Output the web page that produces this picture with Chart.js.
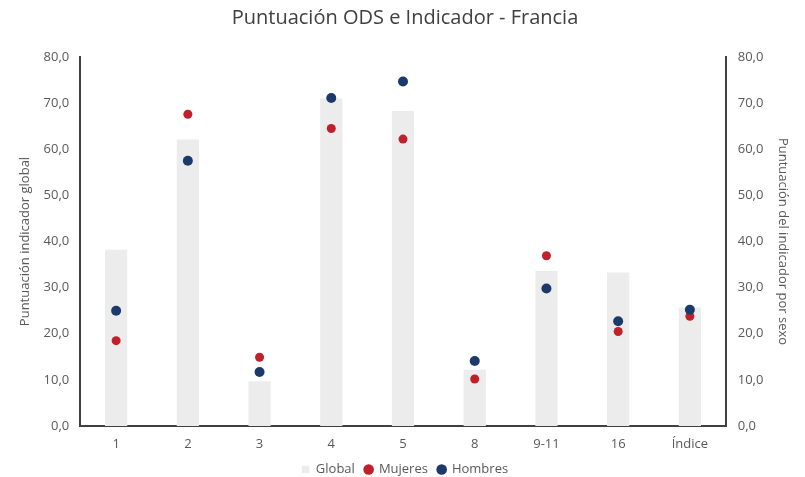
<!DOCTYPE html>
<html><head><meta charset="utf-8">
<script src="https://cdn.jsdelivr.net/npm/chart.js@4"></script>
<style>html,body{margin:0;padding:0;background:#fff}#w{width:805px;height:477px}</style>
</head><body><div id="w"><canvas id="c" width="805" height="477"></canvas></div>
<script>
const categories = ["1","2","3","4","5","8","9-11","16","Índice"];
const globalVals = [38.2,62.1,9.7,71.0,68.3,12.2,33.6,33.3,25.7];
const mujeresVals = [18.5,67.6,14.9,64.5,62.2,10.2,36.9,20.5,23.8];
const hombresVals = [25.0,57.5,11.7,71.1,74.7,14.1,29.8,22.7,25.2];
const yTicks = [0,10,20,30,40,50,60,70,80];

const fontFam = "'Open Sans', sans-serif";
const txt = '#595959';
const fmt = v => v.toFixed(1).replace('.', ',');

new Chart(document.getElementById('c'), {
  data: {
    labels: categories,
    datasets: [
      {type:'line', label:'Mujeres', data:mujeresVals, yAxisID:'y2', showLine:false,
       pointStyle:'circle', pointRadius:4.5, pointHoverRadius:4.5, backgroundColor:'#c0202a', borderColor:'#c0202a', borderWidth:0, order:1},
      {type:'line', label:'Hombres', data:hombresVals, yAxisID:'y2', showLine:false,
       pointStyle:'circle', pointRadius:5, pointHoverRadius:5, backgroundColor:'#1b3a6b', borderColor:'#1b3a6b', borderWidth:0, order:0},
      {type:'bar', label:'Global', data:globalVals, yAxisID:'y', backgroundColor:'#ececec', pointStyle:'rect',
       barPercentage:0.31, categoryPercentage:1.0, order:2}
    ]
  },
  options: {
    responsive:false, animation:false,
    layout:{padding:{left:17,right:12,top:0,bottom:-9}},
    plugins:{
      title:{display:true, text:'Puntuación ODS e Indicador - Francia', color:'#404040',
        font:{family:fontFam, size:20, weight:'normal'}, padding:{top:6,bottom:27}},
      legend:{position:'bottom', reverse:true,
        labels:{usePointStyle:true, boxWidth:7.5, boxHeight:7.5, padding:10, color:txt,
          font:{family:fontFam, size:13}}},
      tooltip:{enabled:false}
    },
    scales:{
      x:{grid:{display:false, drawTicks:false}, border:{display:true, color:'#404040', width:2},
        afterFit: a => { a.height = 27; },
        ticks:{color:txt, font:{family:fontFam, size:13}, padding:10}},
      y:{position:'left', min:0, max:80, grid:{display:false, drawTicks:false},
        border:{display:true, color:'#404040', width:2},
        afterBuildTicks: a => { a.ticks = yTicks.map(v=>({value:v})); },
        ticks:{color:txt, font:{family:fontFam, size:13}, padding:11, callback:v=>fmt(v)},
        title:{display:true, text:'Puntuación indicador global', color:txt, font:{family:fontFam, size:13}, padding:{top:0,bottom:0}}},
      y2:{position:'right', min:0, max:80, grid:{display:false, drawTicks:false},
        border:{display:true, color:'#404040', width:2},
        afterBuildTicks: a => { a.ticks = yTicks.map(v=>({value:v})); },
        ticks:{color:txt, font:{family:fontFam, size:13}, padding:12, callback:v=>fmt(v)},
        title:{display:true, text:'Puntuación del indicador por sexo', color:txt, font:{family:fontFam, size:13}, padding:{top:2,bottom:0}}}
    }
  }
});
</script></body></html>
